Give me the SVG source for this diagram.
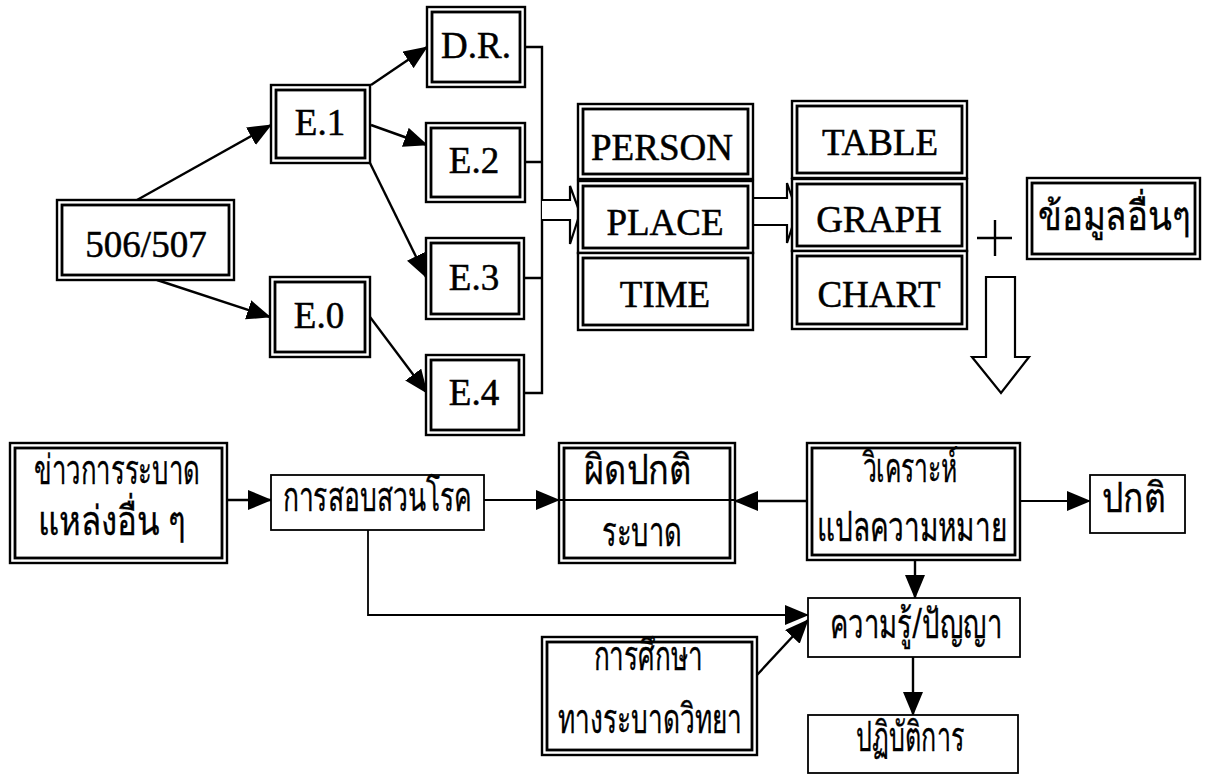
<svg xmlns="http://www.w3.org/2000/svg" width="1211" height="775" viewBox="0 0 1211 775">
  <style>
    .bg { fill: #ffffff; }
    .outer { fill: #ffffff; stroke: #000; stroke-width: 2.4; }
    .inner { fill: none; stroke: #000; stroke-width: 2.8; }
    .single { fill: #ffffff; stroke: #000; stroke-width: 1.8; }
    .en { font-family: "Liberation Serif", "Times New Roman", serif; font-size: 37px; fill: #000; stroke: #000; stroke-width: 0.5; text-anchor: middle; }
    .th { font-family: "Noto Sans", "DejaVu Sans", sans-serif; font-size: 41px; fill: #000; stroke: #000; stroke-width: 0.3; text-anchor: middle; }
    .big { font-size: 40px; }
    .wire { fill: none; stroke: #000; stroke-width: 2.4; }
    .thin { fill: none; stroke: #000; stroke-width: 1.8; }
    .hollow { fill: #ffffff; stroke: #000; stroke-width: 2.2; stroke-linejoin: miter; }
  </style>
  <defs>
    <marker id="tip" markerUnits="userSpaceOnUse" markerWidth="24" markerHeight="20" refX="23" refY="10" orient="auto">
      <path d="M0,0 L24,10 L0,20 Z" fill="#000"/>
    </marker>
  </defs>

  <rect class="bg" x="0" y="0" width="1211" height="775"/>

  <!-- connectors -->
  <g id="connectors">
    <line class="wire" x1="137" y1="200" x2="271" y2="125" marker-end="url(#tip)"/>
    <line class="wire" x1="157" y1="280" x2="270" y2="317" marker-end="url(#tip)"/>
    <line class="wire" x1="371" y1="85" x2="427" y2="47" marker-end="url(#tip)"/>
    <line class="wire" x1="371" y1="125" x2="427" y2="145" marker-end="url(#tip)"/>
    <line class="wire" x1="370" y1="163" x2="426" y2="277" marker-end="url(#tip)"/>
    <line class="wire" x1="370" y1="317" x2="427" y2="393" marker-end="url(#tip)"/>
    <!-- bracket collecting the report sources -->
    <path class="wire" d="M525,47 H542 V393 H524 M525,162 H542 M524,278 H542"/>
    <!-- block arrows -->
    <path class="hollow" d="M542,200 H570 V186 L580,213 L570,244 V220 H542"/>
    <path class="hollow" d="M753,198 H787 V183 L797,212 L787,243 V225 H753"/>
    <path class="hollow" d="M986,277 H1015 V357 H1029 L1001,393 L972,357 H986 Z"/>
    <!-- plus sign -->
    <path class="wire" d="M977,238 H1012 M995,220 V256"/>
    <!-- lower flow -->
    <line class="wire" x1="227" y1="500" x2="271" y2="500" marker-end="url(#tip)"/>
    <line class="thin" x1="484" y1="500" x2="559" y2="500" marker-end="url(#tip)"/>
    <line class="wire" x1="807" y1="501" x2="735" y2="501" marker-end="url(#tip)"/>
    <line class="thin" x1="1020" y1="501" x2="1090" y2="501" marker-end="url(#tip)"/>
    <line class="wire" x1="915" y1="560" x2="915" y2="598" marker-end="url(#tip)"/>
    <polyline class="thin" points="368,530 368,615 808,615" marker-end="url(#tip)"/>
    <line class="wire" x1="757" y1="675" x2="808" y2="620" marker-end="url(#tip)"/>
    <line class="wire" x1="913" y1="657" x2="913" y2="715" marker-end="url(#tip)"/>
  </g>

  <!-- upper nodes -->
  <g id="n506">
    <rect class="outer" x="57" y="200" width="177" height="80"/>
    <rect class="inner" x="62" y="205" width="167" height="70"/>
    <text class="en" x="146" y="257">506/507</text>
  </g>
  <g id="e1">
    <rect class="outer" x="271" y="85" width="99" height="78"/>
    <rect class="inner" x="276" y="90" width="89" height="68"/>
    <text class="en" x="320" y="135">E.1</text>
  </g>
  <g id="e0">
    <rect class="outer" x="270" y="277" width="100" height="80"/>
    <rect class="inner" x="275" y="282" width="90" height="70"/>
    <text class="en" x="319" y="328">E.0</text>
  </g>
  <g id="dr">
    <rect class="outer" x="427" y="7" width="98" height="80"/>
    <rect class="inner" x="432" y="12" width="88" height="70"/>
    <text class="en" x="476" y="58">D.R.</text>
  </g>
  <g id="e2">
    <rect class="outer" x="426" y="123" width="99" height="79"/>
    <rect class="inner" x="431" y="128" width="89" height="69"/>
    <text class="en" x="474" y="173">E.2</text>
  </g>
  <g id="e3">
    <rect class="outer" x="426" y="238" width="98" height="81"/>
    <rect class="inner" x="431" y="243" width="88" height="71"/>
    <text class="en" x="474" y="290">E.3</text>
  </g>
  <g id="e4">
    <rect class="outer" x="426" y="355" width="98" height="80"/>
    <rect class="inner" x="431" y="360" width="88" height="70"/>
    <text class="en" x="474" y="405">E.4</text>
  </g>

  <g id="person">
    <rect class="outer" x="578" y="104" width="175" height="75"/>
    <rect class="inner" x="583" y="109" width="165" height="65"/>
    <text class="en" x="662" y="160">PERSON</text>
  </g>
  <g id="place">
    <rect class="outer" x="578" y="181" width="175" height="72"/>
    <rect class="inner" x="583" y="186" width="165" height="62"/>
    <text class="en" x="665" y="235">PLACE</text>
  </g>
  <g id="time">
    <rect class="outer" x="578" y="253" width="175" height="77"/>
    <rect class="inner" x="583" y="258" width="165" height="67"/>
    <text class="en" x="665" y="307">TIME</text>
  </g>

  <g id="table">
    <rect class="outer" x="792" y="101" width="175" height="77"/>
    <rect class="inner" x="797" y="106" width="165" height="67"/>
    <text class="en" x="880" y="155">TABLE</text>
  </g>
  <g id="graph">
    <rect class="outer" x="792" y="179" width="175" height="72"/>
    <rect class="inner" x="797" y="184" width="165" height="62"/>
    <text class="en" x="879" y="232">GRAPH</text>
  </g>
  <g id="chart">
    <rect class="outer" x="792" y="251" width="175" height="78"/>
    <rect class="inner" x="797" y="256" width="165" height="68"/>
    <text class="en" x="879" y="307">CHART</text>
  </g>

  <g id="other-data">
    <rect class="outer" x="1027" y="178" width="173" height="81"/>
    <rect class="inner" x="1032" y="183" width="163" height="71"/>
    <text class="th big" x="1114" y="230" textLength="152" lengthAdjust="spacingAndGlyphs">ข้อมูลอื่นๆ</text>
  </g>

  <!-- lower nodes -->
  <g id="news">
    <rect class="outer" x="10" y="443" width="217" height="120"/>
    <rect class="inner" x="15" y="448" width="207" height="110"/>
    <text class="th" x="117" y="484" textLength="166" lengthAdjust="spacingAndGlyphs">ข่าวการระบาด</text>
    <text class="th" x="112" y="535" textLength="148" lengthAdjust="spacingAndGlyphs">แหล่งอื่น ๆ</text>
  </g>
  <g id="investigation">
    <rect class="single" x="271" y="475" width="213" height="55"/>
    <text class="th" x="377" y="511" textLength="189" lengthAdjust="spacingAndGlyphs">การสอบสวนโรค</text>
  </g>
  <g id="abnormal">
    <rect class="outer" x="559" y="443" width="176" height="120"/>
    <rect class="inner" x="564" y="448" width="166" height="110"/>
    <line class="thin" x1="559" y1="500" x2="735" y2="500"/>
    <text class="th" x="638" y="484" textLength="108" lengthAdjust="spacingAndGlyphs">ผิดปกติ</text>
    <text class="th" x="642" y="546" textLength="80" lengthAdjust="spacingAndGlyphs">ระบาด</text>
  </g>
  <g id="analysis">
    <rect class="outer" x="807" y="443" width="213" height="117"/>
    <rect class="inner" x="812" y="448" width="203" height="107"/>
    <text class="th" x="910" y="482" textLength="95" lengthAdjust="spacingAndGlyphs">วิเคราะห์</text>
    <text class="th" x="912" y="541" textLength="190" lengthAdjust="spacingAndGlyphs">แปลความหมาย</text>
  </g>
  <g id="normal">
    <rect class="single" x="1090" y="475" width="95" height="58"/>
    <text class="th" x="1134" y="512" textLength="64" lengthAdjust="spacingAndGlyphs">ปกติ</text>
  </g>
  <g id="knowledge">
    <rect class="single" x="808" y="598" width="212" height="59"/>
    <text class="th" x="916" y="638" textLength="172" lengthAdjust="spacingAndGlyphs">ความรู้/ปัญญา</text>
  </g>
  <g id="epi-study">
    <rect class="outer" x="542" y="637" width="215" height="118"/>
    <rect class="inner" x="547" y="642" width="205" height="108"/>
    <text class="th" x="648" y="670" textLength="109" lengthAdjust="spacingAndGlyphs">การศึกษา</text>
    <text class="th" x="650" y="733" textLength="184" lengthAdjust="spacingAndGlyphs">ทางระบาดวิทยา</text>
  </g>
  <g id="action">
    <rect class="single" x="808" y="715" width="210" height="58"/>
    <text class="th" x="910" y="751" textLength="108" lengthAdjust="spacingAndGlyphs">ปฏิบัติการ</text>
  </g>
</svg>
